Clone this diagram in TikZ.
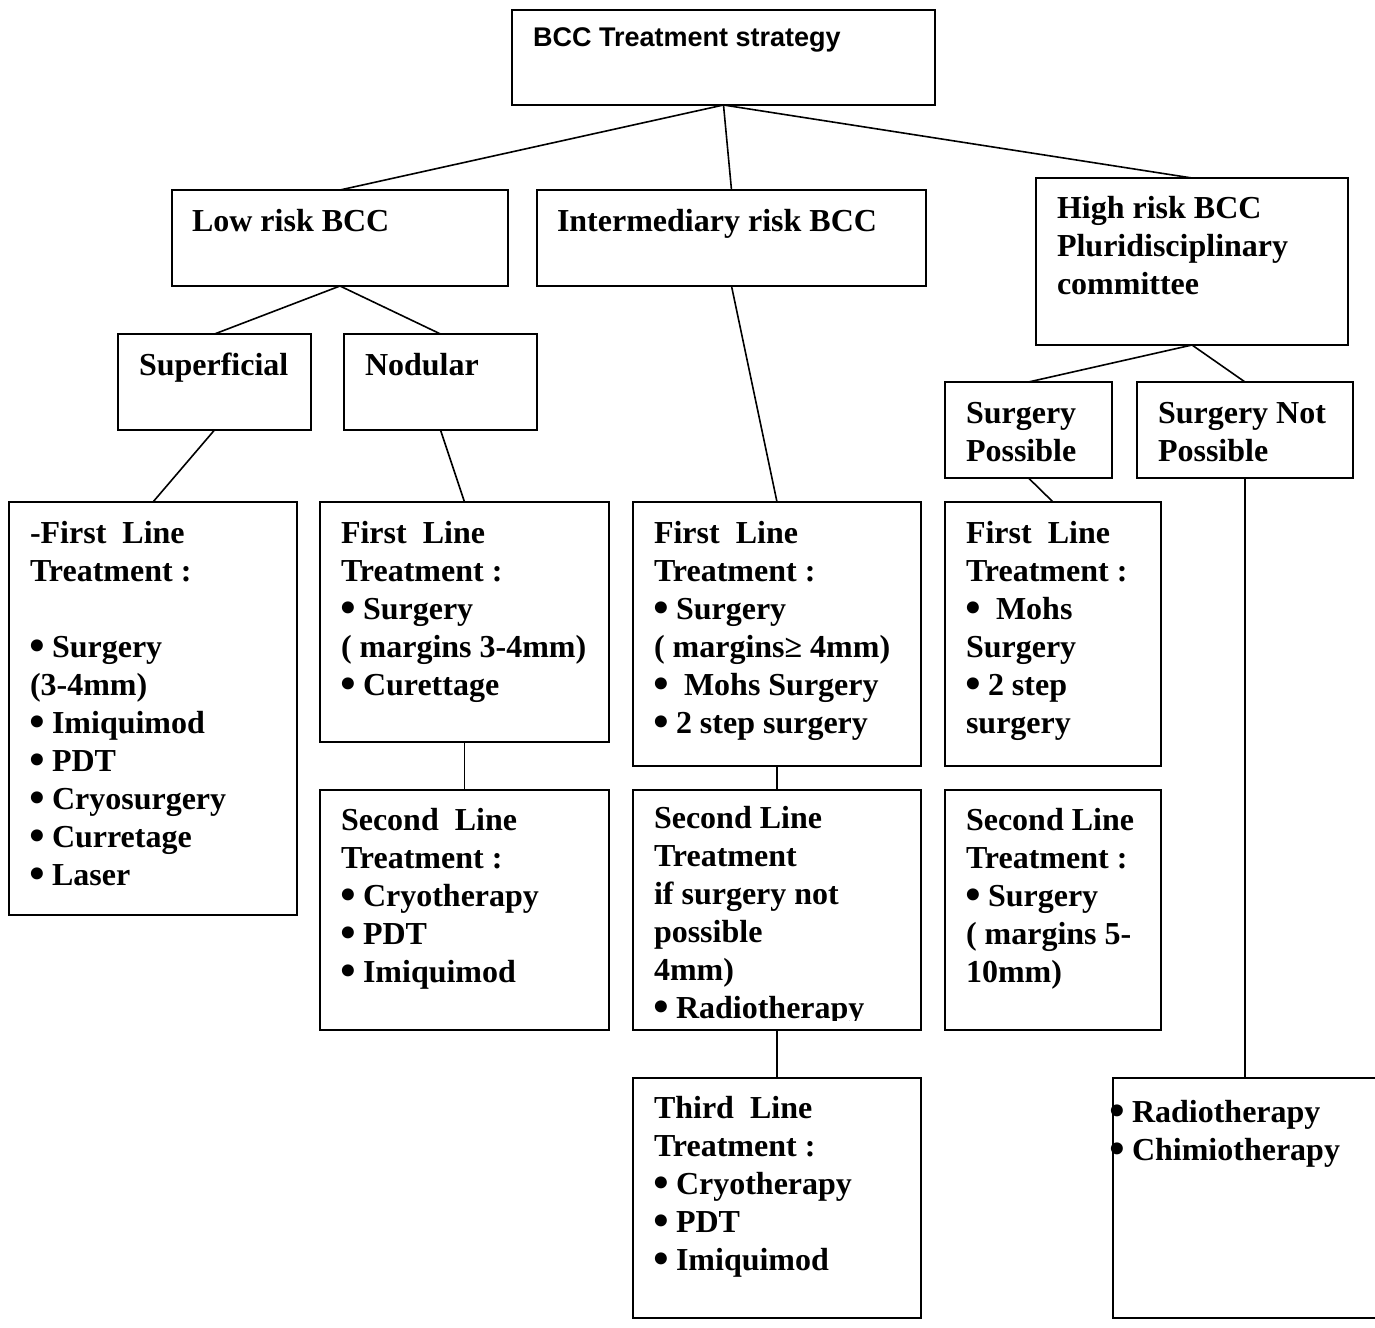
\documentclass[tikz,border=0pt]{standalone}
\usepackage{fontspec}
\setmainfont{Liberation Serif}
\newfontfamily\arialfont{Liberation Sans}
\newfontfamily\bulfont{DejaVu Sans}
\newcommand\bul{\makebox[14pt][c]{\raisebox{-1.5pt}{\bulfont\bfseries\fontsize{34}{38}\selectfont •}}}
\begin{document}
\begin{tikzpicture}[x=1pt,y=-1pt,
  box/.style={draw, line width=1.6pt, inner sep=0pt, outer sep=0pt, anchor=north west},
  link/.style={line width=1.6pt},
  txt/.style={anchor=north west, inner sep=0pt, outer sep=0pt, align=left,
              font=\fontsize{32}{38}\selectfont\bfseries},
  one/.style={anchor=base west, inner sep=0pt, outer sep=0pt,
              font=\fontsize{32}{38}\selectfont\bfseries}]
\useasboundingbox (0,0) rectangle (1375,1327);
% boxes
\node[box, minimum width=423pt, minimum height=95pt]  (top)   at (512,10)   {};
\node[box, minimum width=336pt, minimum height=96pt]  (low)   at (172,190)  {};
\node[box, minimum width=389pt, minimum height=96pt]  (inter) at (537,190)  {};
\node[box, minimum width=312pt, minimum height=167pt] (high)  at (1036,178) {};
\node[box, minimum width=193pt, minimum height=96pt]  (sup)   at (118,334)  {};
\node[box, minimum width=193pt, minimum height=96pt]  (nod)   at (344,334)  {};
\node[box, minimum width=167pt, minimum height=96pt]  (sp)    at (945,382)  {};
\node[box, minimum width=216pt, minimum height=96pt]  (snp)   at (1137,382) {};
\node[box, minimum width=288pt, minimum height=413pt] (lf)    at (9,502)    {};
\node[box, minimum width=289pt, minimum height=240pt] (nf)    at (320,502)  {};
\node[box, minimum width=289pt, minimum height=240pt] (ns)    at (320,790)  {};
\node[box, minimum width=288pt, minimum height=264pt] (ifst)  at (633,502)  {};
\node[box, minimum width=288pt, minimum height=240pt] (isnd)  at (633,790)  {};
\node[box, minimum width=288pt, minimum height=240pt] (ithd)  at (633,1078) {};
\node[box, minimum width=216pt, minimum height=264pt] (hf)    at (945,502)  {};
\node[box, minimum width=216pt, minimum height=240pt] (hs)    at (945,790)  {};
\node[box, minimum width=267pt, minimum height=240pt] (br)    at (1113,1078) {};
% connectors
\draw[link] (top.south) -- (low.north);
\draw[link] (top.south) -- (inter.north);
\draw[link] (top.south) -- (high.north);
\draw[link] (low.south) -- (sup.north);
\draw[link] (low.south) -- (nod.north);
\draw[link] (sup.south) -- (lf.north);
\draw[link] (nod.south) -- (nf.north);
\draw[link] (nf.south) -- (ns.north);
\draw[link] (inter.south) -- (ifst.north);
\draw[link] (ifst.south) -- (isnd.north);
\draw[link] (isnd.south) -- (ithd.north);
\draw[link] (high.south) -- (sp.north);
\draw[link] (high.south) -- (snp.north);
\draw[link] (sp.south) -- (hf.north);
\draw[link] (snp.south) -- (snp.south |- br.north);
% texts
\node[anchor=base west, inner sep=0pt, font=\arialfont\fontsize{27}{31}\selectfont\bfseries] (ttop) at (533,47) {BCC Treatment strategy};
\node[one] (tlow) at (192,231) {Low risk BCC};
\node[one] (tinter) at (557,231) {Intermediary risk BCC};
\node[txt] (thigh) at (1057,191.4) {\strut High risk BCC\\Pluridisciplinary\\committee};
\node[one] (tsup) at (139,375) {Superficial};
\node[one] (tnod) at (365,375) {Nodular};
\node[txt] (tsp) at (966,396.4) {\strut Surgery\\Possible};
\node[txt] (tsnp) at (1158,396.4) {\strut Surgery Not\\Possible};
\node[txt] (tlf) at (30,516.4) {\strut -First~ Line\\Treatment :\\[38pt]\bul{} Surgery\\(3-4mm)\\\bul{} Imiquimod\\\bul{} PDT\\\bul{} Cryosurgery\\\bul{} Curretage\\\bul{} Laser};
\node[txt] (tnf) at (341,516.4) {\strut First~ Line\\Treatment :\\\bul{} Surgery\\( margins 3-4mm)\\\bul{} Curettage};
\node[txt] (tns) at (341,803.4) {\strut Second~ Line\\Treatment :\\\bul{} Cryotherapy\\\bul{} PDT\\\bul{} Imiquimod};
\node[txt] (tif) at (654,516.4) {\strut First~ Line\\Treatment :\\\bul{} Surgery\\( margins≥ 4mm)\\\bul{}~ Mohs Surgery\\\bul{} 2 step surgery};
\begin{scope}
\clip (633,790) rectangle (921,1020);
\node[txt] (tis) at (654,801.4) {\strut Second Line\\Treatment\\if surgery not\\possible\\4mm)\\\bul{} Radiotherapy};
\end{scope}
\node[txt] (tit) at (654,1091.4) {\strut Third~ Line\\Treatment :\\\bul{} Cryotherapy\\\bul{} PDT\\\bul{} Imiquimod};
\node[txt] (thf) at (966,516.4) {\strut First~ Line\\Treatment :\\\bul{}~ Mohs\\Surgery\\\bul{} 2 step\\surgery};
\node[txt] (ths) at (966,803.4) {\strut Second Line\\Treatment :\\\bul{} Surgery\\( margins 5-\\10mm)};
\node[txt] (tbr) at (1110,1095.4) {\strut \bul{} Radiotherapy\\\bul{} Chimiotherapy};
\end{tikzpicture}
\end{document}
